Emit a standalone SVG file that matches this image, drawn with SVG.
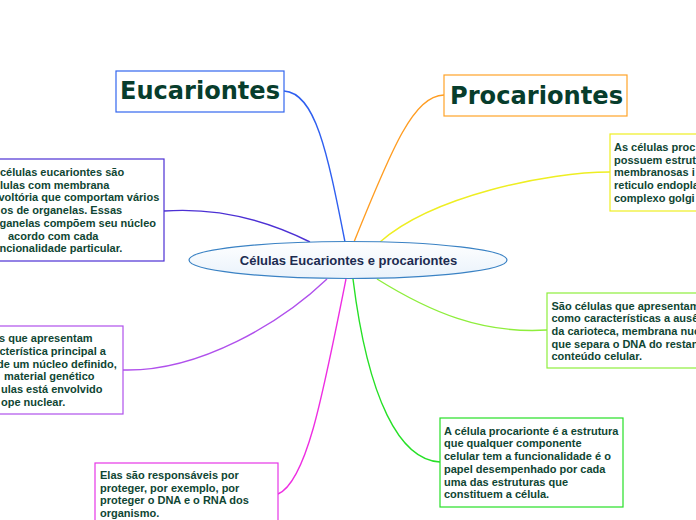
<svg xmlns="http://www.w3.org/2000/svg" width="696" height="520" viewBox="0 0 696 520">
<style>
.body{font-family:"Liberation Sans",Arial,sans-serif;font-weight:bold;font-size:11px;fill:#0f4633}
.head{font-family:"DejaVu Sans",Verdana,sans-serif;font-weight:bold;font-size:24px;fill:#073d2c}
.box{fill:#ffffff;stroke-width:1.2}
.con{fill:none;stroke-width:1.4}
</style>
<defs>
<linearGradient id="cg" x1="0" y1="0" x2="0" y2="1">
<stop offset="0" stop-color="#ffffff"/>
<stop offset="1" stop-color="#e9f2fb"/>
</linearGradient>
</defs>
<rect width="696" height="520" fill="#ffffff"/>
<g id="connectors">
<path class="con" stroke="#2f5ff0" d="M284 91 C315 93, 327 150, 345 242"/>
<path class="con" stroke="#ff9d22" d="M444 95 C414 96, 393 145, 354 242"/>
<path class="con" stroke="#4c30d4" d="M164 211 C220 207, 270 222, 310 242"/>
<path class="con" stroke="#b050ec" d="M123 370 C200 372, 282 322, 327 279"/>
<path class="con" stroke="#ee2ee2" d="M278 494 C306 482, 322 400, 346 279"/>
<path class="con" stroke="#eeee22" d="M610 172 C548 172, 432 196, 380 242"/>
<path class="con" stroke="#8eee3c" d="M547 330 C482 334, 430 312, 377 279"/>
<path class="con" stroke="#26e026" d="M440 462 C400 460, 368 400, 353 279"/>
</g>
<g id="center">
<ellipse cx="348" cy="260" rx="159" ry="18.5" fill="url(#cg)" stroke="#3a82c4" stroke-width="1.2"/>
<text x="348.5" y="264.5" text-anchor="middle" font-family="Liberation Sans, Arial, sans-serif" font-weight="bold" font-size="13" fill="#1c2b50">Células Eucariontes e procariontes</text>
</g>
<g id="eucariontes">
<rect class="box" x="116" y="71" width="168" height="41" stroke="#3366ee"/>
<text class="head" x="120" y="99" textLength="160" lengthAdjust="spacingAndGlyphs">Eucariontes</text>
</g>
<g id="procariontes">
<rect class="box" x="444" y="75" width="183" height="41" stroke="#ffa328"/>
<text class="head" x="450" y="104" textLength="173" lengthAdjust="spacingAndGlyphs">Procariontes</text>
</g>
<g id="box1">
<rect class="box" x="-16" y="159" width="180" height="102" stroke="#4c30d4"/>
<text class="body"><tspan x="0" y="176">células eucariontes são</tspan><tspan x="0" y="188.7">lulas com membrana</tspan><tspan x="-1.5" y="201.4">voltória que comportam vários</tspan><tspan x="0.5" y="214">os de organelas. Essas</tspan><tspan x="-0.5" y="226.8">ganelas compõem seu núcleo</tspan><tspan x="8" y="239.5">acordo com cada</tspan><tspan x="-0.5" y="252.2">ncionalidade particular.</tspan></text>
</g>
<g id="box2">
<rect class="box" x="-60" y="326" width="183" height="88" stroke="#b050ec"/>
<text class="body"><tspan x="-1" y="342.3">s que apresentam</tspan><tspan x="-0.5" y="355">cterística principal a</tspan><tspan x="-3" y="367.7">de um núcleo definido,</tspan><tspan x="4" y="380.4">material genético</tspan><tspan x="1" y="393.1">ulas está envolvido</tspan><tspan x="1" y="405.8">ope nuclear.</tspan></text>
</g>
<g id="box3">
<rect class="box" x="95" y="463" width="183" height="63" stroke="#e636e6"/>
<text class="body"><tspan x="100" y="479">Elas são responsáveis por</tspan><tspan x="100" y="491.7">proteger, por exemplo, por</tspan><tspan x="100" y="504.4">proteger o DNA e o RNA dos</tspan><tspan x="100" y="517.1">organismo.</tspan></text>
</g>
<g id="box4">
<rect class="box" x="610" y="134" width="100" height="77" stroke="#eeee22"/>
<text class="body"><tspan x="614" y="151">As células proc</tspan><tspan x="614" y="163.7">possuem estrut</tspan><tspan x="614" y="176.4">membranosas i</tspan><tspan x="614" y="189.1">reticulo endopla</tspan><tspan x="614" y="201.8">complexo golgi</tspan></text>
</g>
<g id="box5">
<rect class="box" x="547" y="293" width="160" height="75" stroke="#8eee3c"/>
<text class="body"><tspan x="551.5" y="309.5">São células que apresentam</tspan><tspan x="551.5" y="322.2">como características a ausê</tspan><tspan x="551.5" y="334.9">da carioteca, membrana nuc</tspan><tspan x="551.5" y="347.6">que separa o DNA do restan</tspan><tspan x="551.5" y="360.3">conteúdo celular.</tspan></text>
</g>
<g id="box6">
<rect class="box" x="440" y="418" width="183" height="89" stroke="#26e026"/>
<text class="body"><tspan x="444" y="434.7">A célula procarionte é a estrutura</tspan><tspan x="444" y="447.4">que qualquer componente</tspan><tspan x="444" y="460.1">celular tem a funcionalidade é o</tspan><tspan x="444" y="472.8">papel desempenhado por cada</tspan><tspan x="444" y="485.5">uma das estruturas que</tspan><tspan x="444" y="498.2">constituem a célula.</tspan></text>
</g>
</svg>
